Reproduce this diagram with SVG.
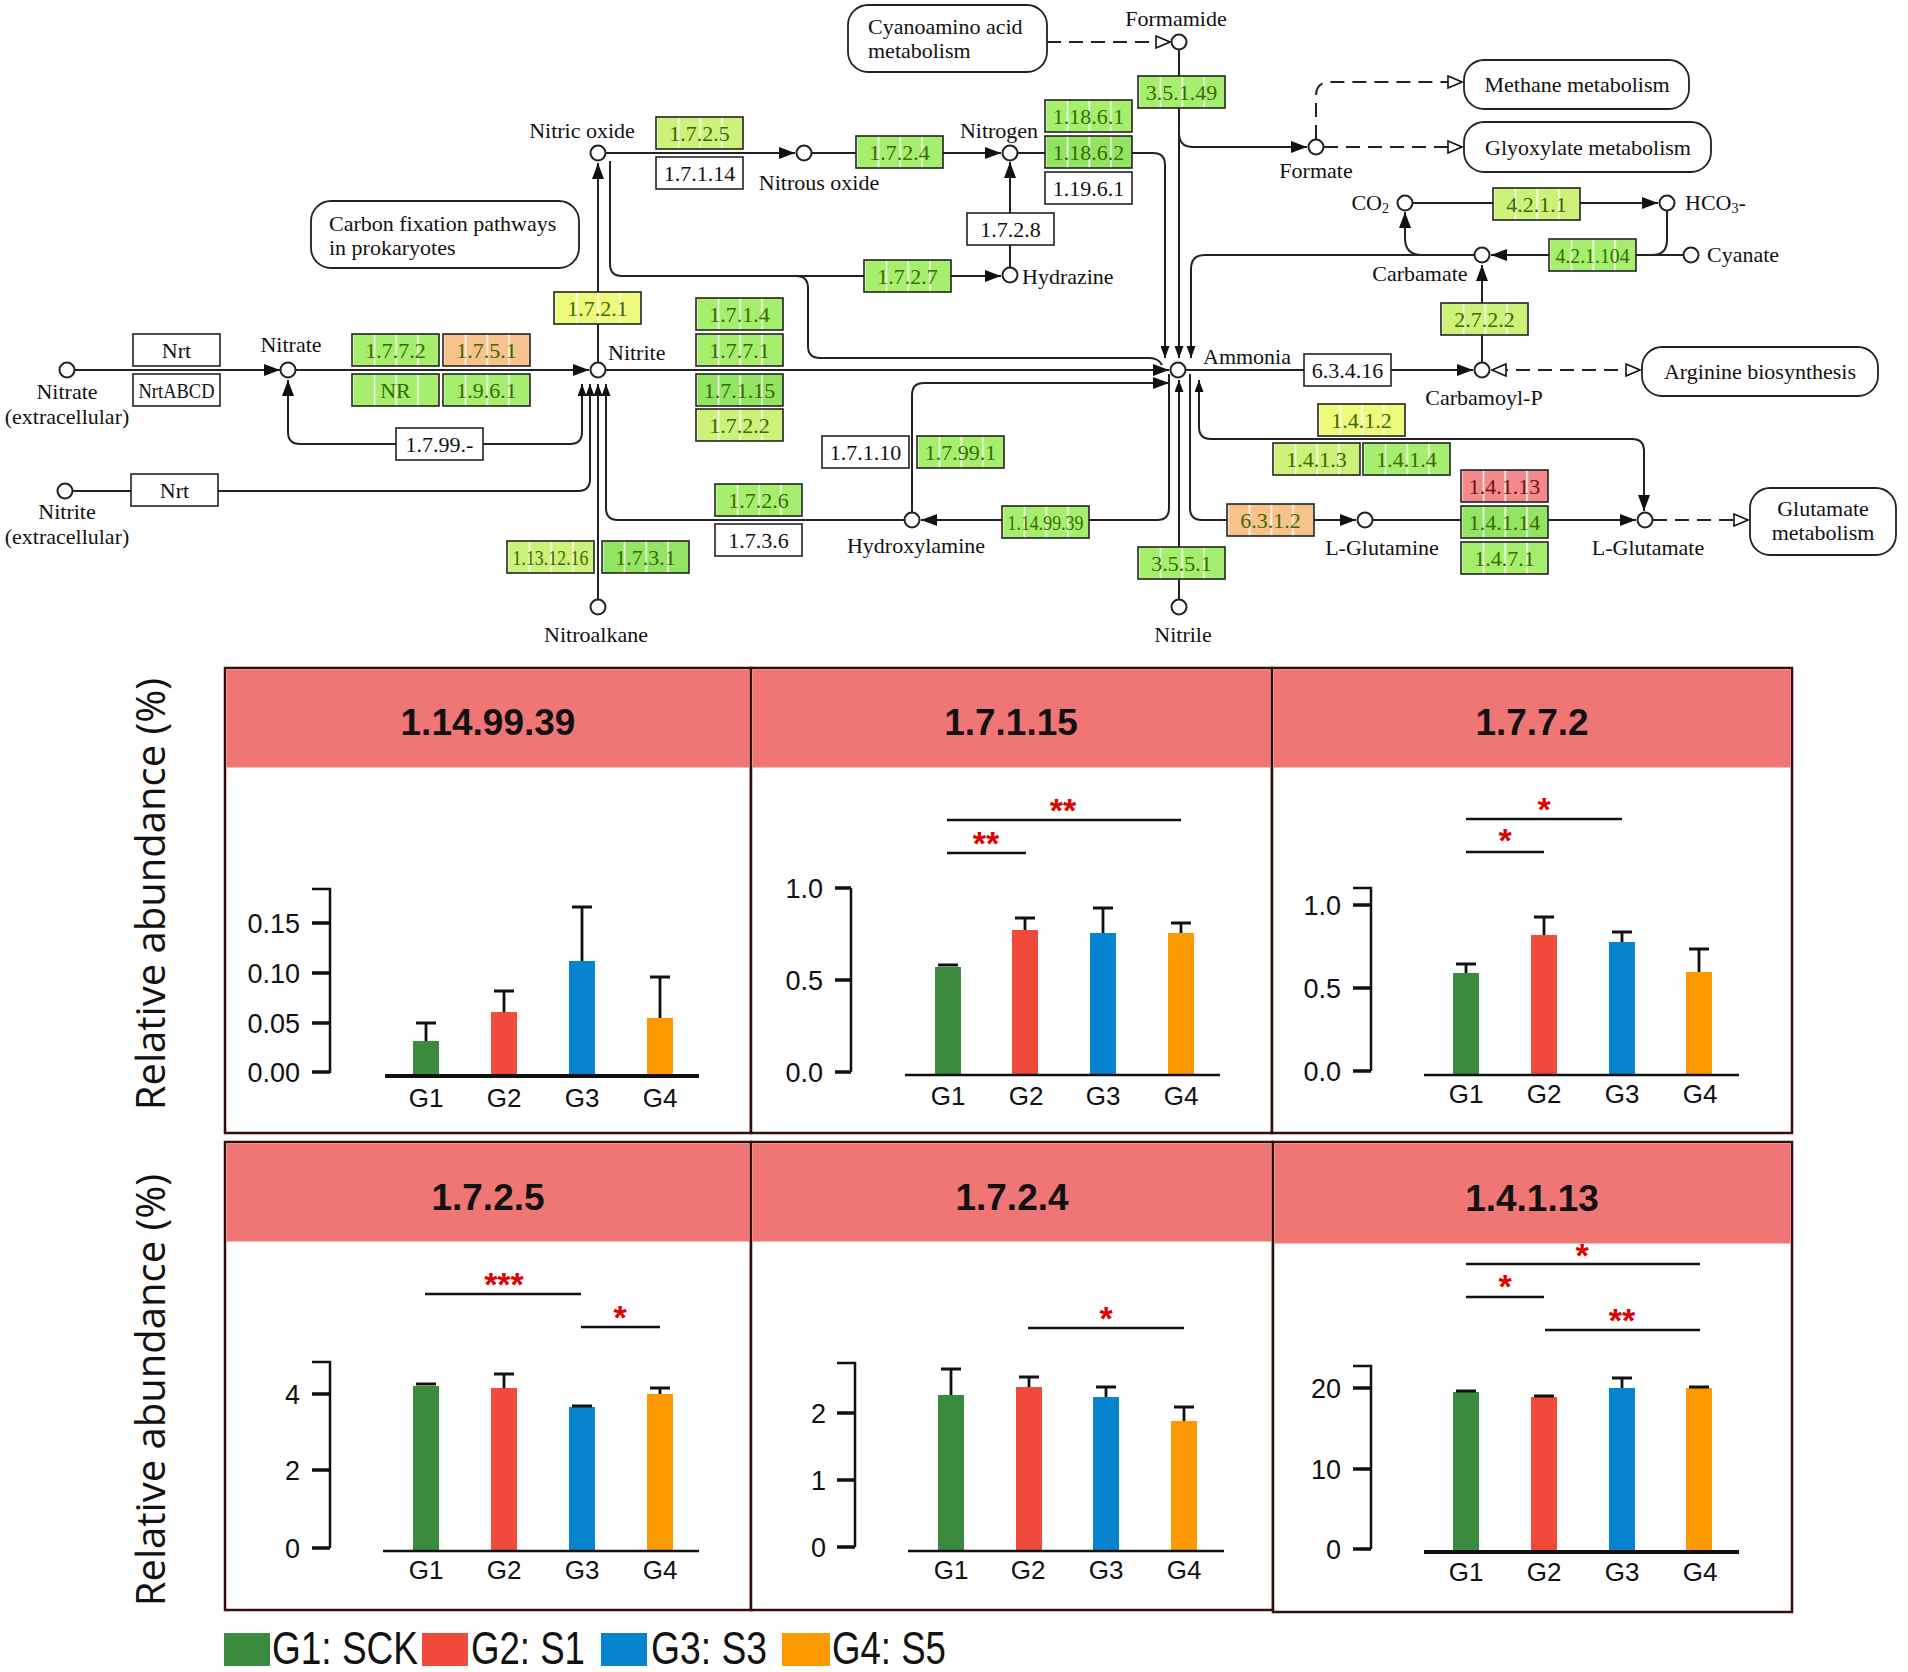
<svg xmlns="http://www.w3.org/2000/svg" width="1908" height="1672" viewBox="0 0 1908 1672">
<defs>
<style>
.lbl{font-family:"Liberation Serif",serif;font-size:22px;fill:#111}
.mid{text-anchor:middle}
.end{text-anchor:end}
.ec{font-family:"Liberation Serif",serif;font-size:22px;text-anchor:middle;fill:#3a6a00}
.ecw{fill:#111}
.ecr{fill:#7a0c0c}
.box{stroke:#222;stroke-width:1.6}
.map{fill:#fff;stroke:#222;stroke-width:1.8}
.cn{fill:none;stroke:#222;stroke-width:2}
.dash{fill:none;stroke:#222;stroke-width:2;stroke-dasharray:14 8}
.node{fill:#fff;stroke:#222;stroke-width:2}
.panel{fill:#fff;stroke:#3a0b0b;stroke-width:2.5}
.hdr{fill:#f07676}
.ttl{font-family:"Liberation Sans",Arial,sans-serif;font-weight:bold;font-size:37px;text-anchor:middle;fill:#111}
.ax{fill:none;stroke:#111;stroke-width:2.5}
.tk{fill:none;stroke:#111;stroke-width:3.5}
.base{fill:none;stroke:#111;stroke-width:2.5}
.base4{fill:none;stroke:#111;stroke-width:4}
.eb{fill:none;stroke:#111;stroke-width:2.8}
.tl{font-family:"Liberation Sans",Arial,sans-serif;font-size:27px;text-anchor:end;fill:#111}
.xl{font-family:"Liberation Sans",Arial,sans-serif;font-size:26px;text-anchor:middle;fill:#111}
.sig{fill:none;stroke:#111;stroke-width:2.5}
.st{font-family:"Liberation Sans",Arial,sans-serif;font-weight:bold;font-size:34px;text-anchor:middle;fill:#e00000}
.g1{fill:#3b8b3f}.g2{fill:#f04a3c}.g3{fill:#0784cf}.g4{fill:#fd9a00}
.yt{font-family:"Open Sans","Liberation Sans",sans-serif;font-size:40px;text-anchor:middle;fill:#111}
.lg{font-family:"Liberation Sans",Arial,sans-serif;font-size:46px;fill:#111}
</style>
<marker id="ah" viewBox="0 0 16 12" refX="16" refY="6" markerWidth="16" markerHeight="12" markerUnits="userSpaceOnUse" orient="auto-start-reverse"><path d="M0,0 L16,6 L0,12 z" fill="#111"/></marker>
<marker id="as" viewBox="0 0 12 9" refX="12" refY="4.5" markerWidth="12" markerHeight="9" markerUnits="userSpaceOnUse" orient="auto-start-reverse"><path d="M0,0 L12,4.5 L0,9 z" fill="#111"/></marker>
<marker id="oa" viewBox="0 0 16 14" refX="15" refY="7" markerWidth="16" markerHeight="14" markerUnits="userSpaceOnUse" orient="auto-start-reverse"><path d="M1,1 L15,7 L1,13 z" fill="#fff" stroke="#111" stroke-width="1.6"/></marker>
<pattern id="pg" width="0.25" height="1" patternContentUnits="objectBoundingBox"><rect width="0.25" height="1" fill="#a6ef6e"/><rect width="0.016" height="1" fill="#fff"/></pattern>
<pattern id="pg2" width="0.25" height="1" patternContentUnits="objectBoundingBox"><rect width="0.25" height="1" fill="#92e462"/><rect width="0.016" height="1" fill="#fff"/></pattern>
<pattern id="pyg" width="0.25" height="1" patternContentUnits="objectBoundingBox"><rect width="0.25" height="1" fill="#cdf279"/><rect width="0.016" height="1" fill="#fff"/></pattern>
<pattern id="py" width="0.25" height="1" patternContentUnits="objectBoundingBox"><rect width="0.25" height="1" fill="#eefa7c"/><rect width="0.016" height="1" fill="#fff"/></pattern>
<pattern id="po" width="0.25" height="1" patternContentUnits="objectBoundingBox"><rect width="0.25" height="1" fill="#f8c28c"/><rect width="0.016" height="1" fill="#fff"/></pattern>
<pattern id="pr" width="0.25" height="1" patternContentUnits="objectBoundingBox"><rect width="0.25" height="1" fill="#f28a8c"/><rect width="0.016" height="1" fill="#fff"/></pattern>
</defs>
<rect width="1908" height="1672" fill="#fff"/>

<g id="connectors">
<path class="cn" d="M75,370 H280" marker-end="url(#ah)"/>
<path class="cn" d="M296,370 H589" marker-end="url(#ah)"/>
<path class="cn" d="M288,380 V432 Q288,444 300,444 H570 Q582,444 582,432 V384" marker-start="url(#ah)" marker-end="url(#as)"/>
<path class="cn" d="M73,491 H578 Q590,491 590,479 V384" marker-end="url(#as)"/>
<path class="cn" d="M598,599 V384" marker-end="url(#as)"/>
<path class="cn" d="M904,520 H618 Q606,520 606,508 V384" marker-end="url(#as)"/>
<path class="cn" d="M598,362 V163" marker-end="url(#ah)"/>
<path class="cn" d="M610,161 V264 Q610,276 622,276 H1001" marker-end="url(#ah)"/>
<path class="cn" d="M796,276 Q808,276 808,288 V346 Q808,358 820,358 H1150 Q1158,358 1162,365"/>
<path class="cn" d="M606,153 H795" marker-end="url(#ah)"/>
<path class="cn" d="M812,153 H1001" marker-end="url(#ah)"/>
<path class="cn" d="M1018,153 H1153 Q1165,153 1165,165 V358" marker-end="url(#as)"/>
<path class="cn" d="M1010,267 V162" marker-end="url(#ah)"/>
<path class="cn" d="M1179,50 V358" marker-end="url(#as)"/>
<path class="cn" d="M1179,133 Q1179,147 1193,147 H1307" marker-end="url(#ah)"/>
<path class="dash" d="M1047,42 H1170" marker-end="url(#oa)"/>
<path class="dash" d="M1316,139 V96 Q1316,82 1330,82 H1462" marker-end="url(#oa)"/>
<path class="dash" d="M1324,147 H1462" marker-end="url(#oa)"/>
<path class="cn" d="M1474,255 H1205 Q1191,255 1191,269 V358" marker-end="url(#as)"/>
<path class="cn" d="M1413,203 H1658" marker-end="url(#ah)"/>
<path class="cn" d="M1683,255 H1491" marker-end="url(#ah)"/>
<path class="cn" d="M1667,211 V240 Q1667,255 1652,255"/>
<path class="cn" d="M1422,255 Q1405,255 1405,238 V212" marker-end="url(#ah)"/>
<path class="cn" d="M1482,362 V265" marker-end="url(#ah)"/>
<path class="cn" d="M1186,370 H1473" marker-end="url(#ah)"/>
<path class="dash" d="M1640,370 H1492" marker-start="url(#oa)" marker-end="url(#oa)"/>
<path class="cn" d="M1179,599 V380" marker-end="url(#as)"/>
<path class="cn" d="M1169,374 V508 Q1169,520 1157,520 H921" marker-end="url(#ah)"/>
<path class="cn" d="M1190,374 V508 Q1190,520 1202,520 H1356" marker-end="url(#ah)"/>
<path class="cn" d="M1199,380 V427 Q1199,439 1211,439 H1632 Q1644,439 1644,451 V511" marker-start="url(#as)" marker-end="url(#ah)"/>
<path class="cn" d="M1373,520 H1636" marker-end="url(#ah)"/>
<path class="dash" d="M1653,520 H1748" marker-end="url(#oa)"/>
<path class="cn" d="M912,512 V395 Q912,383 924,383 H1169" marker-end="url(#ah)"/>
<path class="cn" d="M606,370 H1169" marker-end="url(#ah)"/>
</g>

<g id="maps">
<g id="map-cyanoamino"><rect class="map" x="848" y="5" width="199" height="67" rx="20"/><text class="lbl" x="868" y="34">Cyanoamino acid</text><text class="lbl" x="868" y="58">metabolism</text></g>
<g id="map-methane"><rect class="map" x="1464" y="60" width="225" height="49" rx="20"/><text class="lbl mid" x="1577" y="92">Methane metabolism</text></g>
<g id="map-glyoxylate"><rect class="map" x="1464" y="122" width="247" height="50" rx="20"/><text class="lbl mid" x="1588" y="155">Glyoxylate metabolism</text></g>
<g id="map-carbon"><rect class="map" x="311" y="201" width="268" height="67" rx="20"/><text class="lbl" x="329" y="231">Carbon fixation pathways</text><text class="lbl" x="329" y="255">in prokaryotes</text></g>
<g id="map-arginine"><rect class="map" x="1642" y="347" width="236" height="49" rx="20"/><text class="lbl mid" x="1760" y="379">Arginine biosynthesis</text></g>
<g id="map-glutamate"><rect class="map" x="1750" y="488" width="146" height="67" rx="20"/><text class="lbl mid" x="1823" y="516">Glutamate</text><text class="lbl mid" x="1823" y="540">metabolism</text></g>
</g>

<g id="enzymes">
<g id="ec-nrt1"><rect class="box" x="133" y="334" width="87" height="32" fill="#fff"/><text class="ec ecw" x="176.5" y="358">Nrt</text></g>
<g id="ec-nrtabcd"><rect class="box" x="133" y="374" width="87" height="32" fill="#fff"/><text class="ec ecw" x="176.5" y="398" textLength="76" lengthAdjust="spacingAndGlyphs">NrtABCD</text></g>
<g id="ec-nrt2"><rect class="box" x="131" y="474" width="87" height="32" fill="#fff"/><text class="ec ecw" x="174.5" y="498">Nrt</text></g>
<g id="ec-1772"><rect class="box" x="352" y="334" width="87" height="32" fill="url(#pg)"/><text class="ec" x="395.5" y="358">1.7.7.2</text></g>
<g id="ec-1751"><rect class="box" x="443" y="334" width="87" height="32" fill="url(#po)"/><text class="ec" x="486.5" y="358">1.7.5.1</text></g>
<g id="ec-nr"><rect class="box" x="352" y="374" width="87" height="32" fill="url(#pg)"/><text class="ec" x="395.5" y="398">NR</text></g>
<g id="ec-1961"><rect class="box" x="443" y="374" width="87" height="32" fill="url(#pg)"/><text class="ec" x="486.5" y="398">1.9.6.1</text></g>
<g id="ec-1799x"><rect class="box" x="396" y="428" width="87" height="32" fill="#fff"/><text class="ec ecw" x="439.5" y="452">1.7.99.-</text></g>
<g id="ec-1721"><rect class="box" x="554" y="292" width="87" height="32" fill="url(#py)"/><text class="ec" x="597.5" y="316">1.7.2.1</text></g>
<g id="ec-1131216"><rect class="box" x="507" y="541" width="87" height="32" fill="url(#pyg)"/><text class="ec" x="550.5" y="565" textLength="76" lengthAdjust="spacingAndGlyphs">1.13.12.16</text></g>
<g id="ec-1731"><rect class="box" x="602" y="541" width="87" height="32" fill="url(#pg2)"/><text class="ec" x="645.5" y="565">1.7.3.1</text></g>
<g id="ec-1725"><rect class="box" x="656" y="117" width="87" height="32" fill="url(#pyg)"/><text class="ec" x="699.5" y="141">1.7.2.5</text></g>
<g id="ec-17114"><rect class="box" x="656" y="157" width="87" height="32" fill="#fff"/><text class="ec ecw" x="699.5" y="181">1.7.1.14</text></g>
<g id="ec-1724"><rect class="box" x="856" y="136" width="87" height="32" fill="url(#pg)"/><text class="ec" x="899.5" y="160">1.7.2.4</text></g>
<g id="ec-11861"><rect class="box" x="1045" y="100" width="87" height="32" fill="url(#pg)"/><text class="ec" x="1088.5" y="124">1.18.6.1</text></g>
<g id="ec-11862"><rect class="box" x="1045" y="136" width="87" height="32" fill="url(#pg2)"/><text class="ec" x="1088.5" y="160">1.18.6.2</text></g>
<g id="ec-11961"><rect class="box" x="1045" y="172" width="87" height="32" fill="#fff"/><text class="ec ecw" x="1088.5" y="196">1.19.6.1</text></g>
<g id="ec-1728"><rect class="box" x="967" y="213" width="87" height="32" fill="#fff"/><text class="ec ecw" x="1010.5" y="237">1.7.2.8</text></g>
<g id="ec-1727"><rect class="box" x="864" y="260" width="87" height="32" fill="url(#pg)"/><text class="ec" x="907.5" y="284">1.7.2.7</text></g>
<g id="ec-35149"><rect class="box" x="1138" y="76" width="87" height="32" fill="url(#pg)"/><text class="ec" x="1181.5" y="100">3.5.1.49</text></g>
<g id="ec-1714"><rect class="box" x="696" y="298" width="87" height="32" fill="url(#pg)"/><text class="ec" x="739.5" y="322">1.7.1.4</text></g>
<g id="ec-1771"><rect class="box" x="696" y="334" width="87" height="32" fill="url(#pg)"/><text class="ec" x="739.5" y="358">1.7.7.1</text></g>
<g id="ec-17115"><rect class="box" x="696" y="374" width="87" height="32" fill="url(#pg2)"/><text class="ec" x="739.5" y="398">1.7.1.15</text></g>
<g id="ec-1722"><rect class="box" x="696" y="409" width="87" height="32" fill="url(#pyg)"/><text class="ec" x="739.5" y="433">1.7.2.2</text></g>
<g id="ec-1726"><rect class="box" x="715" y="484" width="87" height="32" fill="url(#pg)"/><text class="ec" x="758.5" y="508">1.7.2.6</text></g>
<g id="ec-1736"><rect class="box" x="715" y="524" width="87" height="32" fill="#fff"/><text class="ec ecw" x="758.5" y="548">1.7.3.6</text></g>
<g id="ec-17110"><rect class="box" x="822" y="436" width="87" height="32" fill="#fff"/><text class="ec ecw" x="865.5" y="460">1.7.1.10</text></g>
<g id="ec-17991"><rect class="box" x="917" y="436" width="87" height="32" fill="url(#pg)"/><text class="ec" x="960.5" y="460">1.7.99.1</text></g>
<g id="ec-1149939"><rect class="box" x="1002" y="506" width="87" height="32" fill="url(#pg)"/><text class="ec" x="1045.5" y="530" textLength="76" lengthAdjust="spacingAndGlyphs">1.14.99.39</text></g>
<g id="ec-3551"><rect class="box" x="1138" y="547" width="87" height="32" fill="url(#pg)"/><text class="ec" x="1181.5" y="571">3.5.5.1</text></g>
<g id="ec-6312"><rect class="box" x="1227" y="504" width="87" height="32" fill="url(#po)"/><text class="ec" x="1270.5" y="528">6.3.1.2</text></g>
<g id="ec-4211"><rect class="box" x="1493" y="188" width="87" height="32" fill="url(#pyg)"/><text class="ec" x="1536.5" y="212">4.2.1.1</text></g>
<g id="ec-421104"><rect class="box" x="1549" y="239" width="87" height="32" fill="url(#pg)"/><text class="ec" x="1592.5" y="263" textLength="74" lengthAdjust="spacingAndGlyphs">4.2.1.104</text></g>
<g id="ec-2722"><rect class="box" x="1441" y="303" width="87" height="32" fill="url(#pyg)"/><text class="ec" x="1484.5" y="327">2.7.2.2</text></g>
<g id="ec-63416"><rect class="box" x="1304" y="354" width="87" height="32" fill="#fff"/><text class="ec ecw" x="1347.5" y="378">6.3.4.16</text></g>
<g id="ec-1412"><rect class="box" x="1318" y="404" width="87" height="32" fill="url(#py)"/><text class="ec" x="1361.5" y="428">1.4.1.2</text></g>
<g id="ec-1413"><rect class="box" x="1273" y="443" width="87" height="32" fill="url(#pyg)"/><text class="ec" x="1316.5" y="467">1.4.1.3</text></g>
<g id="ec-1414"><rect class="box" x="1363" y="443" width="87" height="32" fill="url(#pg)"/><text class="ec" x="1406.5" y="467">1.4.1.4</text></g>
<g id="ec-14113"><rect class="box" x="1461" y="470" width="87" height="32" fill="url(#pr)"/><text class="ec ecr" x="1504.5" y="494">1.4.1.13</text></g>
<g id="ec-14114"><rect class="box" x="1461" y="506" width="87" height="32" fill="url(#pg2)"/><text class="ec" x="1504.5" y="530">1.4.1.14</text></g>
<g id="ec-1471"><rect class="box" x="1461" y="542" width="87" height="32" fill="url(#pg)"/><text class="ec" x="1504.5" y="566">1.4.7.1</text></g>
</g>

<g id="compounds">
<g id="n-nitrate-ext"><circle class="node" cx="67" cy="370" r="7.5"/><text class="lbl mid" x="67" y="399">Nitrate</text><text class="lbl mid" x="67" y="424">(extracellular)</text></g>
<g id="n-nitrite-ext"><circle class="node" cx="65" cy="491" r="7.5"/><text class="lbl mid" x="67" y="519">Nitrite</text><text class="lbl mid" x="67" y="544">(extracellular)</text></g>
<g id="n-nitrate"><circle class="node" cx="288" cy="370" r="7.5"/><text class="lbl mid" x="291" y="352">Nitrate</text></g>
<g id="n-nitrite"><circle class="node" cx="598" cy="370" r="7.5"/><text class="lbl" x="608" y="360">Nitrite</text></g>
<g id="n-nitricoxide"><circle class="node" cx="598" cy="153" r="7.5"/><text class="lbl mid" x="582" y="138">Nitric oxide</text></g>
<g id="n-nitrousoxide"><circle class="node" cx="804" cy="153" r="7.5"/><text class="lbl mid" x="819" y="190">Nitrous oxide</text></g>
<g id="n-nitrogen"><circle class="node" cx="1010" cy="153" r="7.5"/><text class="lbl mid" x="999" y="138">Nitrogen</text></g>
<g id="n-hydrazine"><circle class="node" cx="1010" cy="275" r="7.5"/><text class="lbl" x="1022" y="284">Hydrazine</text></g>
<g id="n-formamide"><circle class="node" cx="1179" cy="42" r="7.5"/><text class="lbl mid" x="1176" y="26">Formamide</text></g>
<g id="n-formate"><circle class="node" cx="1316" cy="147" r="7.5"/><text class="lbl mid" x="1316" y="178">Formate</text></g>
<g id="n-ammonia"><circle class="node" cx="1178" cy="370" r="7.5"/><text class="lbl" x="1203" y="364">Ammonia</text></g>
<g id="n-co2"><circle class="node" cx="1405" cy="203" r="7.5"/><text class="lbl end" x="1389" y="210">CO<tspan font-size="14" dy="3">2</tspan></text></g>
<g id="n-hco3"><circle class="node" cx="1667" cy="203" r="7.5"/><text class="lbl" x="1685" y="210">HCO<tspan font-size="14" dy="3">3</tspan><tspan dy="-3">-</tspan></text></g>
<g id="n-carbamate"><circle class="node" cx="1482" cy="255" r="7.5"/><text class="lbl mid" x="1420" y="281">Carbamate</text></g>
<g id="n-cyanate"><circle class="node" cx="1691" cy="255" r="7.5"/><text class="lbl" x="1707" y="262">Cyanate</text></g>
<g id="n-carbamoylp"><circle class="node" cx="1482" cy="370" r="7.5"/><text class="lbl mid" x="1484" y="405">Carbamoyl-P</text></g>
<g id="n-hydroxylamine"><circle class="node" cx="912" cy="520" r="7.5"/><text class="lbl mid" x="916" y="553">Hydroxylamine</text></g>
<g id="n-nitroalkane"><circle class="node" cx="598" cy="607" r="7.5"/><text class="lbl mid" x="596" y="642">Nitroalkane</text></g>
<g id="n-nitrile"><circle class="node" cx="1179" cy="607" r="7.5"/><text class="lbl mid" x="1183" y="642">Nitrile</text></g>
<g id="n-glutamine"><circle class="node" cx="1365" cy="520" r="7.5"/><text class="lbl mid" x="1382" y="555">L-Glutamine</text></g>
<g id="n-glutamate"><circle class="node" cx="1645" cy="520" r="7.5"/><text class="lbl mid" x="1648" y="555">L-Glutamate</text></g>
</g>

<g id="charts">
<text class="yt" transform="translate(165,894) rotate(-90)">Relative abundance (%)</text>
<text class="yt" transform="translate(165,1390) rotate(-90)">Relative abundance (%)</text>

<g id="panel-1149939">
<rect class="panel" x="225" y="668" width="526" height="465"/>
<rect class="hdr" x="226.5" y="669.5" width="523" height="98"/>
<text class="ttl" x="488" y="735">1.14.99.39</text>
<path class="ax" d="M312,889 H330 V1073"/>
<path class="tk" d="M312,923 H330 M312,973 H330 M312,1023 H330 M312,1072 H330"/>
<text class="tl" x="300" y="933">0.15</text><text class="tl" x="300" y="983">0.10</text><text class="tl" x="300" y="1033">0.05</text><text class="tl" x="300" y="1082">0.00</text>
<rect class="g1" x="413" y="1041" width="26" height="35"/><rect class="g2" x="491" y="1012" width="26" height="64"/><rect class="g3" x="569" y="961" width="26" height="115"/><rect class="g4" x="647" y="1018" width="26" height="58"/>
<path class="eb" d="M426,1041 V1023 M416,1023 H436 M504,1012 V991 M494,991 H514 M582,961 V907 M572,907 H592 M660,1018 V977 M650,977 H670"/>
<path class="base4" d="M385,1076 H699"/>
<text class="xl" x="426" y="1107">G1</text><text class="xl" x="504" y="1107">G2</text><text class="xl" x="582" y="1107">G3</text><text class="xl" x="660" y="1107">G4</text>
</g>

<g id="panel-17115">
<rect class="panel" x="751" y="668" width="521" height="465"/>
<rect class="hdr" x="752.5" y="669.5" width="518" height="98"/>
<text class="ttl" x="1011" y="735">1.7.1.15</text>
<path class="ax" d="M851,888 V1072"/>
<path class="tk" d="M835,888 H851 M835,980 H851 M835,1072 H851"/>
<text class="tl" x="823" y="898">1.0</text><text class="tl" x="823" y="990">0.5</text><text class="tl" x="823" y="1082">0.0</text>
<rect class="g1" x="935" y="967" width="26" height="108"/><rect class="g2" x="1012" y="930" width="26" height="145"/><rect class="g3" x="1090" y="933" width="26" height="142"/><rect class="g4" x="1168" y="933" width="26" height="142"/>
<path class="eb" d="M938,965 H958 M1025,930 V918 M1015,918 H1035 M1103,933 V908 M1093,908 H1113 M1181,933 V923 M1171,923 H1191"/>
<path class="base" d="M905,1075 H1220"/>
<text class="xl" x="948" y="1105">G1</text><text class="xl" x="1026" y="1105">G2</text><text class="xl" x="1103" y="1105">G3</text><text class="xl" x="1181" y="1105">G4</text>
<path class="sig" d="M947,820 H1181 M947,853 H1026"/>
<text class="st" x="1063" y="822">**</text><text class="st" x="986" y="855">**</text>
</g>

<g id="panel-1772">
<rect class="panel" x="1272" y="668" width="520" height="465"/>
<rect class="hdr" x="1273.5" y="669.5" width="517" height="98"/>
<text class="ttl" x="1532" y="735">1.7.7.2</text>
<path class="ax" d="M1353,888 H1371 V1071"/>
<path class="tk" d="M1353,905 H1371 M1353,988 H1371 M1353,1071 H1371"/>
<text class="tl" x="1341" y="915">1.0</text><text class="tl" x="1341" y="998">0.5</text><text class="tl" x="1341" y="1081">0.0</text>
<rect class="g1" x="1453" y="973" width="26" height="102"/><rect class="g2" x="1531" y="935" width="26" height="140"/><rect class="g3" x="1609" y="942" width="26" height="133"/><rect class="g4" x="1686" y="972" width="26" height="103"/>
<path class="eb" d="M1466,973 V964 M1456,964 H1476 M1544,935 V917 M1534,917 H1554 M1622,942 V932 M1612,932 H1632 M1699,972 V949 M1689,949 H1709"/>
<path class="base" d="M1424,1075 H1739"/>
<text class="xl" x="1466" y="1103">G1</text><text class="xl" x="1544" y="1103">G2</text><text class="xl" x="1622" y="1103">G3</text><text class="xl" x="1700" y="1103">G4</text>
<path class="sig" d="M1466,819 H1622 M1466,852 H1544"/>
<text class="st" x="1544" y="821">*</text><text class="st" x="1505" y="852">*</text>
</g>

<g id="panel-1725">
<rect class="panel" x="225" y="1142" width="526" height="468"/>
<rect class="hdr" x="226.5" y="1143.5" width="523" height="98"/>
<text class="ttl" x="488" y="1210">1.7.2.5</text>
<path class="ax" d="M312,1362 H330 V1548"/>
<path class="tk" d="M312,1394 H330 M312,1470 H330 M312,1548 H330"/>
<text class="tl" x="300" y="1404">4</text><text class="tl" x="300" y="1480">2</text><text class="tl" x="300" y="1558">0</text>
<rect class="g1" x="413" y="1386" width="26" height="165"/><rect class="g2" x="491" y="1388" width="26" height="163"/><rect class="g3" x="569" y="1407" width="26" height="144"/><rect class="g4" x="647" y="1394" width="26" height="157"/>
<path class="eb" d="M416,1384 H436 M504,1388 V1374 M494,1374 H514 M572,1406 H592 M660,1394 V1388 M650,1388 H670"/>
<path class="base" d="M383,1551 H699"/>
<text class="xl" x="426" y="1579">G1</text><text class="xl" x="504" y="1579">G2</text><text class="xl" x="582" y="1579">G3</text><text class="xl" x="660" y="1579">G4</text>
<path class="sig" d="M425,1294 H581 M581,1327 H660"/>
<text class="st" x="504" y="1296">***</text><text class="st" x="620" y="1329">*</text>
</g>

<g id="panel-1724">
<rect class="panel" x="751" y="1142" width="522" height="468"/>
<rect class="hdr" x="752.5" y="1143.5" width="519" height="98"/>
<text class="ttl" x="1012" y="1210">1.7.2.4</text>
<path class="ax" d="M837,1363 H855 V1547"/>
<path class="tk" d="M837,1413 H855 M837,1480 H855 M837,1547 H855"/>
<text class="tl" x="826" y="1423">2</text><text class="tl" x="826" y="1490">1</text><text class="tl" x="826" y="1557">0</text>
<rect class="g1" x="938" y="1395" width="26" height="156"/><rect class="g2" x="1016" y="1387" width="26" height="164"/><rect class="g3" x="1093" y="1397" width="26" height="154"/><rect class="g4" x="1171" y="1421" width="26" height="130"/>
<path class="eb" d="M951,1395 V1369 M941,1369 H961 M1029,1387 V1377 M1019,1377 H1039 M1106,1397 V1387 M1096,1387 H1116 M1184,1421 V1407 M1174,1407 H1194"/>
<path class="base" d="M908,1551 H1224"/>
<text class="xl" x="951" y="1579">G1</text><text class="xl" x="1028" y="1579">G2</text><text class="xl" x="1106" y="1579">G3</text><text class="xl" x="1184" y="1579">G4</text>
<path class="sig" d="M1028,1328 H1184"/>
<text class="st" x="1106" y="1330">*</text>
</g>

<g id="panel-14113">
<rect class="panel" x="1273" y="1142" width="519" height="470"/>
<rect class="hdr" x="1274.5" y="1143.5" width="516" height="100"/>
<text class="ttl" x="1532" y="1211">1.4.1.13</text>
<path class="ax" d="M1353,1366 H1371 V1549"/>
<path class="tk" d="M1353,1388 H1371 M1353,1469 H1371 M1353,1549 H1371"/>
<text class="tl" x="1341" y="1398">20</text><text class="tl" x="1341" y="1479">10</text><text class="tl" x="1341" y="1559">0</text>
<rect class="g1" x="1453" y="1392" width="26" height="160"/><rect class="g2" x="1531" y="1397" width="26" height="155"/><rect class="g3" x="1609" y="1388" width="26" height="164"/><rect class="g4" x="1686" y="1388" width="26" height="164"/>
<path class="eb" d="M1456,1391 H1476 M1534,1396 H1554 M1622,1388 V1378 M1612,1378 H1632 M1689,1387 H1709"/>
<path class="base4" d="M1424,1552 H1739"/>
<text class="xl" x="1466" y="1581">G1</text><text class="xl" x="1544" y="1581">G2</text><text class="xl" x="1622" y="1581">G3</text><text class="xl" x="1700" y="1581">G4</text>
<path class="sig" d="M1466,1264 H1700 M1466,1297 H1544 M1545,1330 H1700"/>
<text class="st" x="1582" y="1267">*</text><text class="st" x="1505" y="1298">*</text><text class="st" x="1622" y="1332">**</text>
</g>
</g>

<g id="legend">
<rect class="g1" x="224" y="1633" width="46" height="33"/><text class="lg" x="272" y="1664" textLength="146" lengthAdjust="spacingAndGlyphs">G1: SCK</text>
<rect class="g2" x="422" y="1633" width="46" height="33"/><text class="lg" x="471" y="1664" textLength="114" lengthAdjust="spacingAndGlyphs">G2: S1</text>
<rect class="g3" x="601" y="1633" width="46" height="33"/><text class="lg" x="651" y="1664" textLength="116" lengthAdjust="spacingAndGlyphs">G3: S3</text>
<rect class="g4" x="782" y="1633" width="48" height="33"/><text class="lg" x="832" y="1664" textLength="114" lengthAdjust="spacingAndGlyphs">G4: S5</text>
</g>
</svg>
